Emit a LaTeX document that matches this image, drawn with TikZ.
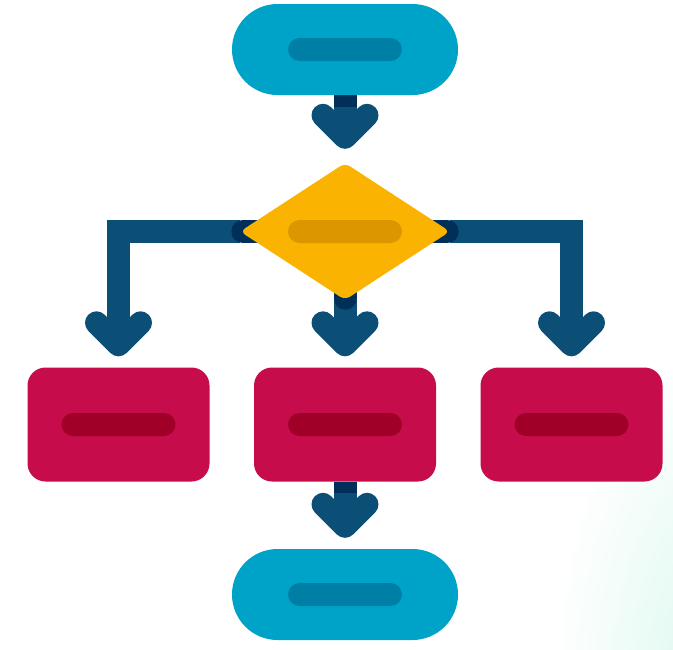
\documentclass[tikz,border=0pt]{standalone}
\usetikzlibrary{shapes.geometric,shapes.misc,positioning,backgrounds}
\definecolor{pillcolor}{RGB}{0,163,200}
\definecolor{pillbar}{RGB}{0,127,166}
\definecolor{deccolor}{RGB}{249,179,0}
\definecolor{decbar}{RGB}{220,150,0}
\definecolor{taskcolor}{RGB}{199,12,76}
\definecolor{taskbar}{RGB}{160,0,40}
\definecolor{linkcolor}{RGB}{11,79,118}
\definecolor{stubcolor}{RGB}{0,48,89}
\definecolor{mintcolor}{RGB}{214,247,235}

\begin{document}
\begin{tikzpicture}[x=1pt, y=-1pt,
    pill/.style={rounded rectangle, fill=pillcolor, minimum width=226pt,
      minimum height=91pt, inner sep=0pt},
    decision/.style={diamond, fill=deccolor, minimum width=210pt,
      minimum height=137pt, inner sep=0pt, rounded corners=6pt},
    task/.style={rectangle, fill=taskcolor, minimum width=182pt,
      minimum height=114pt, inner sep=0pt, rounded corners=18pt},
    bar/.style={rounded rectangle, minimum width=114pt, minimum height=23pt,
      inner sep=0pt},
    link/.style={draw=linkcolor, line width=23pt},
    stub/.style={draw=stubcolor, line width=23pt},
    chev/.pic={\draw[link, line cap=round, line join=round]
      (-22,-22) -- (0,0) -- (22,-22);}]
      \useasboundingbox (0,0) rectangle (673,649);
      % faint corner glow
      \begin{scope}
            \clip (0,0) rectangle (673,649);
            \shade[inner color=mintcolor, outer color=white] (740,690) ellipse (190 and 360);
      \end{scope}

      % shapes
      \node[pill] (start) at (345,49.5) {};
      \node[decision] (dec) at (345,231.5) {};
      \node[task] (left) at (118.5,424.5) {};
      \node[task] (mid) at (345,424.5) {};
      \node[task] (right) at (571.5,424.5) {};
      \node[pill] (stop) at (345,594.5) {};

      % inner bars
      \node[bar, fill=pillbar] (startbar) at (start) {};
      \node[bar, fill=decbar] (decbar) at (dec) {};
      \node[bar, fill=taskbar] (leftbar) at (left) {};
      \node[bar, fill=taskbar] (midbar) at (mid) {};
      \node[bar, fill=taskbar] (rightbar) at (right) {};
      \node[bar, fill=pillbar] (stopbar) at (stop) {};

      % arrow tips
      \coordinate[above=25.5pt of dec.north] (tipdec);
      \coordinate[above=22.5pt of left.north] (tipleft);
      \coordinate[above=22.5pt of mid.north] (tipmid);
      \coordinate[above=22.5pt of right.north] (tipright);
      \coordinate[above=22.5pt of stop.north] (tipstop);

      \begin{scope}[on background layer]
            \draw[link] (start.south) -- (tipdec);
            \draw[link] (dec.west) -| (tipleft);
            \draw[link] (dec.east) -| (tipright);
            \draw[link] (dec.south) -- (tipmid);
            \draw[link] (mid.south) -- (tipstop);
            \draw[stub] (start.south) -- ++(0,12);
            \draw[stub, line cap=round] ([xshift=3pt]dec.west) -- (dec.center);
            \draw[stub, line cap=round] ([xshift=-3pt]dec.east) -- (dec.center);
            \draw[stub, line cap=round] ([yshift=2pt]dec.south) -- (dec.center);
            \draw[stub] (mid.south) -- ++(0,11);
      \end{scope}

      \foreach \tip in {tipdec, tipleft, tipmid, tipright, tipstop}{
            \pic at (\tip) {chev};
      }
\end{tikzpicture}
\end{document}
